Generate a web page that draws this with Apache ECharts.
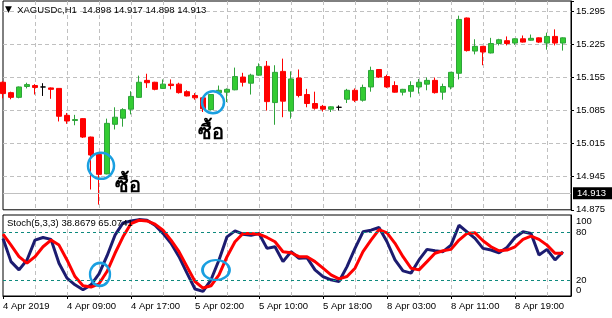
<!DOCTYPE html>
<html><head><meta charset="utf-8">
<script src="https://cdn.jsdelivr.net/npm/echarts@6/dist/echarts.min.js"></script>
<style>html,body{margin:0;padding:0;background:#fff}#c{width:612px;height:318px}</style>
</head><body><div id="c"></div>
<script>
// ---- data ----
const categories = [
 '4 Apr 01:00','4 Apr 02:00','4 Apr 03:00','4 Apr 04:00','4 Apr 05:00','4 Apr 06:00','4 Apr 07:00','4 Apr 08:00',
 '4 Apr 09:00','4 Apr 10:00','4 Apr 11:00','4 Apr 12:00','4 Apr 13:00','4 Apr 14:00','4 Apr 15:00','4 Apr 16:00',
 '4 Apr 17:00','4 Apr 18:00','4 Apr 19:00','4 Apr 20:00','4 Apr 21:00','4 Apr 22:00','4 Apr 23:00',
 '5 Apr 01:00','5 Apr 02:00','5 Apr 03:00','5 Apr 04:00','5 Apr 05:00','5 Apr 06:00','5 Apr 07:00','5 Apr 08:00',
 '5 Apr 09:00','5 Apr 10:00','5 Apr 11:00','5 Apr 12:00','5 Apr 13:00','5 Apr 14:00','5 Apr 15:00','5 Apr 16:00',
 '5 Apr 17:00','5 Apr 18:00','5 Apr 19:00','5 Apr 20:00','5 Apr 21:00','5 Apr 22:00','5 Apr 23:00',
 '8 Apr 01:00','8 Apr 02:00','8 Apr 03:00','8 Apr 04:00','8 Apr 05:00','8 Apr 06:00','8 Apr 07:00','8 Apr 08:00',
 '8 Apr 09:00','8 Apr 10:00','8 Apr 11:00','8 Apr 12:00','8 Apr 13:00','8 Apr 14:00','8 Apr 15:00','8 Apr 16:00',
 '8 Apr 17:00','8 Apr 18:00','8 Apr 19:00','8 Apr 20:00','8 Apr 21:00','8 Apr 22:00','8 Apr 23:00',
 '9 Apr 01:00','9 Apr 02:00'
];
const firstDateLabel = '4 Apr 2019';

const open = [15.145,15.123,15.113,15.136,15.138,15.135,15.133,15.132,15.075,15.064,
 15.068,15.029,14.992,14.951,15.056,15.069,15.088,15.113,15.149,15.145,
 15.132,15.141,15.141,15.125,15.117,15.112,15.087,15.123,15.124,15.129,
 15.156,15.143,15.160,15.179,15.102,15.168,15.084,15.154,15.119,15.100,
 15.094,15.088,15.092,15.109,15.128,15.107,15.135,15.172,15.157,15.138,
 15.124,15.126,15.135,15.141,15.149,15.124,15.135,15.164,15.281,15.211,
 15.221,15.207,15.227,15.233,15.228,15.237,15.234,15.239,15.228,15.242,15.228];
const close = [15.121,15.113,15.135,15.140,15.134,15.135,15.130,15.073,15.063,15.066,
 15.029,14.991,14.950,15.058,15.071,15.087,15.115,15.145,15.144,15.130,
 15.141,15.138,15.123,15.116,15.112,15.089,15.119,15.128,15.130,15.157,
 15.145,15.160,15.178,15.104,15.166,15.105,15.152,15.117,15.100,15.090,
 15.088,15.093,15.092,15.128,15.107,15.134,15.170,15.156,15.135,15.124,
 15.130,15.138,15.145,15.149,15.123,15.136,15.166,15.278,15.212,15.221,
 15.209,15.227,15.235,15.227,15.237,15.230,15.238,15.230,15.242,15.228,15.239];
const low = [15.111,15.109,15.111,15.132,15.119,15.116,15.110,15.062,15.057,15.054,
 15.027,14.918,14.886,14.950,15.045,15.051,15.077,15.112,15.133,15.128,
 15.131,15.130,15.121,15.115,15.108,15.082,15.085,15.121,15.103,15.128,
 15.136,15.119,15.159,15.085,15.055,15.071,15.068,15.113,15.092,15.087,
 15.083,15.082,15.085,15.101,15.103,15.104,15.125,15.154,15.133,15.123,
 15.117,15.113,15.121,15.128,15.121,15.108,15.130,15.151,15.210,15.204,
 15.181,15.206,15.223,15.223,15.224,15.229,15.233,15.228,15.214,15.223,15.212];
const high = [15.147,15.125,15.136,15.144,15.141,15.143,15.134,15.132,15.080,15.076,
 15.069,15.030,14.993,15.068,15.092,15.090,15.126,15.159,15.163,15.146,
 15.151,15.151,15.144,15.128,15.122,15.113,15.120,15.138,15.132,15.176,
 15.165,15.163,15.185,15.190,15.181,15.195,15.168,15.172,15.131,15.125,
 15.097,15.094,15.096,15.131,15.132,15.140,15.178,15.173,15.161,15.147,
 15.131,15.147,15.152,15.155,15.155,15.142,15.167,15.286,15.282,15.236,
 15.222,15.239,15.237,15.242,15.238,15.244,15.246,15.240,15.250,15.257,15.240];

const stochMain = [72.5,43.3,32.9,45.4,70.4,73.7,71.3,41.3,22.5,14.1,
 7.9,14.0,27.9,50.4,76.6,92.0,94.5,96.2,95.4,89.1,
 78.8,66.3,49.5,28.8,8.8,5.8,20.4,45.4,74.5,82.0,
 77.9,76.6,78.8,60.0,62.0,43.3,55.8,47.5,48.3,32.9,
 24.5,20.4,18.3,37.0,60.0,80.8,82.9,86.2,68.3,45.4,
 31.6,28.8,45.4,58.7,57.0,55.8,64.1,89.1,80.8,72.5,
 60.0,57.9,54.5,61.2,73.7,80.8,78.8,51.6,58.7,45.4,55.8];
const stochSignal = [77.9,64.1,49.5,41.3,49.5,62.0,70.4,64.1,45.4,24.5,
 12.9,11.3,15.4,30.8,53.8,74.5,91.2,95.4,94.5,90.4,
 82.9,70.4,55.8,37.0,18.3,10.0,12.9,26.6,49.5,68.3,
 78.8,78.8,77.9,73.7,68.3,55.8,54.5,49.5,49.5,43.3,
 35.0,26.6,21.6,24.5,35.0,55.8,70.4,83.7,79.5,66.3,
 49.5,35.0,32.9,43.3,53.8,57.0,58.7,70.4,78.8,79.5,
 69.5,62.0,57.0,57.9,62.0,71.3,75.4,71.3,64.1,53.8,53.8];

const headerText = 'XAGUSDc,H1  14.898 14.917 14.898 14.913';
const stochText = 'Stoch(5,3,3) 38.8679 65.0741';
const bidPrice = 14.913;
const stochLevels = [20, 80];
const stochAxisLabels = [0, 20, 80, 100];
const buyLabel = 'ซื้อ';

// ---- build ----
const FONT = '"Liberation Sans", Arial, sans-serif';
const axisCats = categories.concat(['']);
const candles = categories.map((c, i) => {
  const v = [open[i], close[i], low[i], high[i]];
  if (open[i] === close[i]) {
    return { value: v, itemStyle: { color: '#000', color0: '#000', borderColor: '#000', borderColor0: '#000', borderColorDoji: '#000' } };
  }
  return v;
});
const gridLine = { color: '#c0c0c0', type: [4, 3], width: 1 };
const PMIN = 14.875, PSTEP = 0.07;
const circleStyle = { color: 'rgba(0,0,0,0)', borderColor: '#1a9fe0', borderWidth: 2.5 };
const ellipse = 'path://M0,10A10,10,0,1,1,20,10A10,10,0,1,1,0,10Z';
const textMark = (coord, off) => ({
  coord: coord, symbol: 'rect', symbolSize: 1,
  itemStyle: { color: 'rgba(0,0,0,0)', borderWidth: 0 },
  label: { show: true, position: 'inside', formatter: buyLabel, fontSize: 20, fontWeight: 'bold',
    fontFamily: 'serif', color: '#000', offset: off }
});

const chart = echarts.init(document.getElementById('c'), null, { renderer: 'canvas' });
chart.setOption({
  animation: false,
  backgroundColor: '#fff',
  textStyle: { fontFamily: FONT },
  title: [
    { text: '{t|▼}  ' + headerText, left: 5, top: 5, padding: 0,
      textStyle: { fontSize: 9.5, fontWeight: 'normal', color: '#000', fontFamily: FONT,
        rich: { t: { fontSize: 9, color: '#000', fontFamily: '"DejaVu Sans"' } } } },
    { text: stochText, left: 7, top: 218, padding: 0,
      textStyle: { fontSize: 9.5, fontWeight: 'normal', color: '#000', fontFamily: FONT } }
  ],
  grid: [
    { left: 3, width: 568, top: 1, height: 208.8, show: true, borderColor: '#000', borderWidth: 1, backgroundColor: '#fff' },
    { left: 3, width: 568, top: 215, height: 81, show: true, borderColor: '#000', borderWidth: 1, backgroundColor: '#fff' }
  ],
  xAxis: [
    { type: 'category', gridIndex: 0, data: axisCats, boundaryGap: false,
      axisLine: { show: false }, axisTick: { show: false }, axisLabel: { show: false },
      splitLine: { show: true, interval: 3, showMinLine: false, lineStyle: gridLine } },
    { type: 'category', gridIndex: 1, data: axisCats, boundaryGap: false,
      axisLine: { show: true, lineStyle: { color: '#000' } },
      axisTick: { show: true, interval: 7, length: 3, lineStyle: { color: '#000' } },
      axisLabel: { show: true, interval: 7, align: 'left', margin: 5, fontSize: 9.5, color: '#000', fontFamily: FONT,
        formatter: (v, i) => (i === 0 ? firstDateLabel : v) },
      splitLine: { show: true, interval: 3, showMinLine: false, lineStyle: gridLine } }
  ],
  yAxis: [
    { type: 'value', gridIndex: 0, position: 'right', min: PMIN, max: 15.317, interval: PSTEP,
      axisLine: { show: true, lineStyle: { color: '#000' } },
      axisTick: { show: true, length: 3, lineStyle: { color: '#000' } },
      axisLabel: { fontSize: 9.5, color: '#000', margin: 5, fontFamily: FONT,
        formatter: v => { const r = (v - PMIN) / PSTEP; return Math.abs(r - Math.round(r)) > 1e-6 ? '' : v.toFixed(3); } },
      splitLine: { show: true, showMinLine: false, showMaxLine: false, lineStyle: gridLine } },
    { type: 'value', gridIndex: 1, position: 'right', min: 0, max: 102, interval: 20,
      axisLine: { show: true, lineStyle: { color: '#000' } },
      axisTick: { show: false },
      axisLabel: { fontSize: 9.5, color: '#000', margin: 5, fontFamily: FONT,
        formatter: v => {
          if (!stochAxisLabels.includes(v)) return '';
          if (v === 100) return '{a|100}';
          if (v === 0) return '{b|0}';
          return String(v);
        },
        rich: { a: { fontSize: 9.5, color: '#000', padding: [10, 0, 0, 0] }, b: { fontSize: 9.5, color: '#000', padding: [0, 0, 12, 0] } } },
      splitLine: { show: false } }
  ],
  series: [
    { type: 'candlestick', xAxisIndex: 0, yAxisIndex: 0, data: candles, barWidth: 5,
      itemStyle: { color: '#33cc33', color0: '#ff0000', borderColor: '#2ea33a', borderColor0: '#ff0000', borderWidth: 1 },
      markLine: { silent: true, symbol: 'none', data: [{ yAxis: bidPrice }],
        lineStyle: { color: '#c0c0c0', type: 'solid', width: 1 },
        label: { show: true, position: 'end', formatter: bidPrice.toFixed(3), backgroundColor: '#000', color: '#fff',
          fontSize: 9.5, fontFamily: FONT, padding: [1, 6, 1, 4], distance: 2 } },
      markPoint: { silent: true, data: [
        { coord: [12, 14.968], symbol: 'circle', symbolSize: 26, symbolOffset: [2, 0], itemStyle: circleStyle, label: { show: false } },
        { coord: [26, 15.1025], symbol: 'circle', symbolSize: 22, symbolOffset: [2, 0], itemStyle: circleStyle, label: { show: false } },
        textMark([16, 14.923], [-3.5, 0]),
        textMark([26, 15.035], [0, 0])
      ] } },
    { type: 'line', xAxisIndex: 1, yAxisIndex: 1, data: stochMain, symbol: 'none',
      lineStyle: { color: '#1c1c70', width: 3 },
      markLine: { silent: true, symbol: 'none', data: stochLevels.map(l => ({ yAxis: l })),
        lineStyle: { color: '#0e8a7e', type: [3, 3], width: 1 }, label: { show: false } } },
    { type: 'line', xAxisIndex: 1, yAxisIndex: 1, data: stochSignal, symbol: 'none',
      lineStyle: { color: '#ff0000', width: 3 },
      markPoint: { silent: true, data: [
        { coord: [12, 27.3], symbol: ellipse, symbolSize: [20, 23], symbolOffset: [1, 0], itemStyle: circleStyle, label: { show: false } },
        { coord: [27, 32.7], symbol: ellipse, symbolSize: [27, 20], symbolOffset: [-3, 0], itemStyle: circleStyle, label: { show: false } }
      ] } }
  ]
});
</script></body></html>
